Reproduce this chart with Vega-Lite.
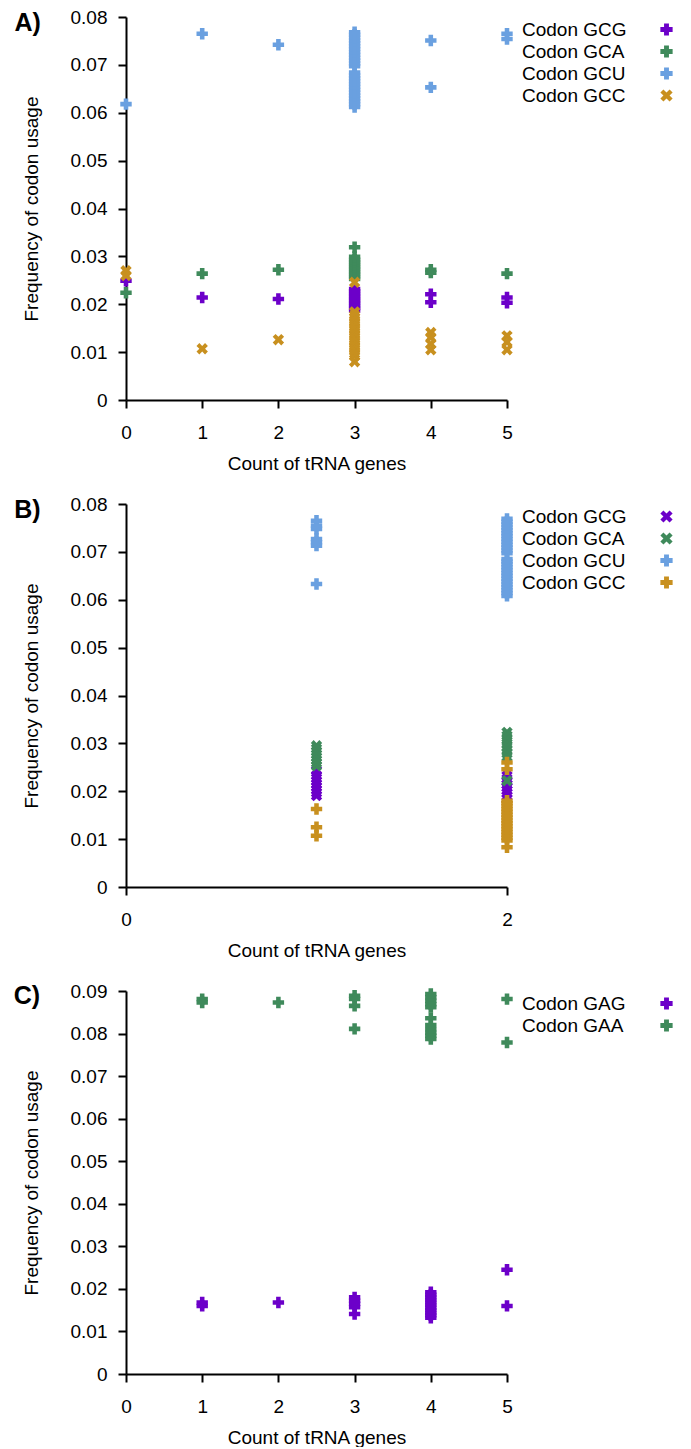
{
  "$schema": "https://vega.github.io/schema/vega-lite/v6.json",
  "autosize": {"type": "pad"},
  "padding": {"left": 13, "top": 8, "right": 5, "bottom": 0},
  "background": "white",
  "spacing": 22,
  "config": {
    "font": "Liberation Sans",
    "view": {"stroke": null},
    "axis": {
      "grid": false,
      "labelFlush": false,
      "domainColor": "black",
      "domainWidth": 2,
      "tickColor": "black",
      "tickWidth": 2,
      "tickSize": 8,
      "labelColor": "black",
      "labelFont": "Liberation Sans",
      "labelFontSize": 19,
      "titleFont": "Liberation Sans",
      "titleFontSize": 19,
      "titleFontWeight": "normal",
      "titleColor": "black"
    },
    "axisX": {"labelPadding": 15, "titlePadding": 12, "labelAngle": 0, "labelFlush": false},
    "axisY": {"labelPadding": 11, "titlePadding": 29, "labelFlush": false},
    "legend": {
      "orient": "none",
      "legendX": 382,
      "legendY": 3,
      "title": null,
      "padding": 0,
      "symbolOffset": 149,
      "labelOffset": -154,
      "labelFont": "Liberation Sans",
      "labelFontSize": 19,
      "labelColor": "black",
      "labelLimit": 300,
      "symbolSize": 150,
      "symbolStrokeWidth": 0,
      "rowPadding": 2
    }
  },
  "resolve": {"scale": {"x": "independent", "y": "independent", "color": "independent", "shape": "independent"}},
  "vconcat": [
    {
      "width": 381,
      "height": 383,
      "layer": [
        {
          "data": {"values": [
            {"count": 0, "freq": 0.0249, "codon": "Codon GCG"},
            {"count": 1, "freq": 0.0214, "codon": "Codon GCG"},
            {"count": 2, "freq": 0.0211, "codon": "Codon GCG"},
            {"count": 3, "freq": 0.0187, "codon": "Codon GCG"},
            {"count": 3, "freq": 0.0192, "codon": "Codon GCG"},
            {"count": 3, "freq": 0.0197, "codon": "Codon GCG"},
            {"count": 3, "freq": 0.0202, "codon": "Codon GCG"},
            {"count": 3, "freq": 0.0207, "codon": "Codon GCG"},
            {"count": 3, "freq": 0.0212, "codon": "Codon GCG"},
            {"count": 3, "freq": 0.0217, "codon": "Codon GCG"},
            {"count": 3, "freq": 0.0222, "codon": "Codon GCG"},
            {"count": 3, "freq": 0.0227, "codon": "Codon GCG"},
            {"count": 3, "freq": 0.0232, "codon": "Codon GCG"},
            {"count": 4, "freq": 0.0221, "codon": "Codon GCG"},
            {"count": 4, "freq": 0.0204, "codon": "Codon GCG"},
            {"count": 5, "freq": 0.0214, "codon": "Codon GCG"},
            {"count": 5, "freq": 0.0203, "codon": "Codon GCG"},
            {"count": 0, "freq": 0.0224, "codon": "Codon GCA"},
            {"count": 1, "freq": 0.0264, "codon": "Codon GCA"},
            {"count": 2, "freq": 0.0272, "codon": "Codon GCA"},
            {"count": 3, "freq": 0.0319, "codon": "Codon GCA"},
            {"count": 3, "freq": 0.0253, "codon": "Codon GCA"},
            {"count": 3, "freq": 0.0258, "codon": "Codon GCA"},
            {"count": 3, "freq": 0.0263, "codon": "Codon GCA"},
            {"count": 3, "freq": 0.0268, "codon": "Codon GCA"},
            {"count": 3, "freq": 0.0273, "codon": "Codon GCA"},
            {"count": 3, "freq": 0.0278, "codon": "Codon GCA"},
            {"count": 3, "freq": 0.0283, "codon": "Codon GCA"},
            {"count": 3, "freq": 0.0288, "codon": "Codon GCA"},
            {"count": 3, "freq": 0.0293, "codon": "Codon GCA"},
            {"count": 3, "freq": 0.0299, "codon": "Codon GCA"},
            {"count": 4, "freq": 0.0272, "codon": "Codon GCA"},
            {"count": 4, "freq": 0.0266, "codon": "Codon GCA"},
            {"count": 5, "freq": 0.0264, "codon": "Codon GCA"},
            {"count": 0, "freq": 0.0618, "codon": "Codon GCU"},
            {"count": 1, "freq": 0.0765, "codon": "Codon GCU"},
            {"count": 2, "freq": 0.0742, "codon": "Codon GCU"},
            {"count": 3, "freq": 0.0612, "codon": "Codon GCU"},
            {"count": 3, "freq": 0.0618, "codon": "Codon GCU"},
            {"count": 3, "freq": 0.0624, "codon": "Codon GCU"},
            {"count": 3, "freq": 0.0630, "codon": "Codon GCU"},
            {"count": 3, "freq": 0.0636, "codon": "Codon GCU"},
            {"count": 3, "freq": 0.0642, "codon": "Codon GCU"},
            {"count": 3, "freq": 0.0648, "codon": "Codon GCU"},
            {"count": 3, "freq": 0.0654, "codon": "Codon GCU"},
            {"count": 3, "freq": 0.0660, "codon": "Codon GCU"},
            {"count": 3, "freq": 0.0666, "codon": "Codon GCU"},
            {"count": 3, "freq": 0.0672, "codon": "Codon GCU"},
            {"count": 3, "freq": 0.0678, "codon": "Codon GCU"},
            {"count": 3, "freq": 0.0684, "codon": "Codon GCU"},
            {"count": 3, "freq": 0.0697, "codon": "Codon GCU"},
            {"count": 3, "freq": 0.0703, "codon": "Codon GCU"},
            {"count": 3, "freq": 0.0709, "codon": "Codon GCU"},
            {"count": 3, "freq": 0.0715, "codon": "Codon GCU"},
            {"count": 3, "freq": 0.0721, "codon": "Codon GCU"},
            {"count": 3, "freq": 0.0727, "codon": "Codon GCU"},
            {"count": 3, "freq": 0.0733, "codon": "Codon GCU"},
            {"count": 3, "freq": 0.0739, "codon": "Codon GCU"},
            {"count": 3, "freq": 0.0745, "codon": "Codon GCU"},
            {"count": 3, "freq": 0.0751, "codon": "Codon GCU"},
            {"count": 3, "freq": 0.0757, "codon": "Codon GCU"},
            {"count": 3, "freq": 0.0763, "codon": "Codon GCU"},
            {"count": 3, "freq": 0.0768, "codon": "Codon GCU"},
            {"count": 4, "freq": 0.0751, "codon": "Codon GCU"},
            {"count": 4, "freq": 0.0653, "codon": "Codon GCU"},
            {"count": 5, "freq": 0.0765, "codon": "Codon GCU"},
            {"count": 5, "freq": 0.0754, "codon": "Codon GCU"},
            {"count": 0, "freq": 0.0270, "codon": "Codon GCC"},
            {"count": 0, "freq": 0.0260, "codon": "Codon GCC"},
            {"count": 1, "freq": 0.0107, "codon": "Codon GCC"},
            {"count": 2, "freq": 0.0126, "codon": "Codon GCC"},
            {"count": 3, "freq": 0.0246, "codon": "Codon GCC"},
            {"count": 3, "freq": 0.0080, "codon": "Codon GCC"},
            {"count": 3, "freq": 0.0092, "codon": "Codon GCC"},
            {"count": 3, "freq": 0.0097, "codon": "Codon GCC"},
            {"count": 3, "freq": 0.0102, "codon": "Codon GCC"},
            {"count": 3, "freq": 0.0107, "codon": "Codon GCC"},
            {"count": 3, "freq": 0.0112, "codon": "Codon GCC"},
            {"count": 3, "freq": 0.0117, "codon": "Codon GCC"},
            {"count": 3, "freq": 0.0122, "codon": "Codon GCC"},
            {"count": 3, "freq": 0.0127, "codon": "Codon GCC"},
            {"count": 3, "freq": 0.0132, "codon": "Codon GCC"},
            {"count": 3, "freq": 0.0137, "codon": "Codon GCC"},
            {"count": 3, "freq": 0.0142, "codon": "Codon GCC"},
            {"count": 3, "freq": 0.0147, "codon": "Codon GCC"},
            {"count": 3, "freq": 0.0152, "codon": "Codon GCC"},
            {"count": 3, "freq": 0.0157, "codon": "Codon GCC"},
            {"count": 3, "freq": 0.0162, "codon": "Codon GCC"},
            {"count": 3, "freq": 0.0167, "codon": "Codon GCC"},
            {"count": 3, "freq": 0.0172, "codon": "Codon GCC"},
            {"count": 3, "freq": 0.0177, "codon": "Codon GCC"},
            {"count": 3, "freq": 0.0184, "codon": "Codon GCC"},
            {"count": 4, "freq": 0.0141, "codon": "Codon GCC"},
            {"count": 4, "freq": 0.0131, "codon": "Codon GCC"},
            {"count": 4, "freq": 0.0117, "codon": "Codon GCC"},
            {"count": 4, "freq": 0.0105, "codon": "Codon GCC"},
            {"count": 5, "freq": 0.0134, "codon": "Codon GCC"},
            {"count": 5, "freq": 0.0121, "codon": "Codon GCC"},
            {"count": 5, "freq": 0.0105, "codon": "Codon GCC"}
          ]},
          "mark": {"type": "point", "filled": true, "opacity": 1, "size": 130, "strokeWidth": 0},
          "encoding": {
            "x": {"field": "count", "type": "quantitative", "title": "Count of tRNA genes",
                  "scale": {"domain": [0, 5], "nice": false, "zero": false},
                  "axis": {"values": [0, 1, 2, 3, 4, 5], "format": "d"}},
            "y": {"field": "freq", "type": "quantitative", "title": "Frequency of codon usage",
                  "scale": {"domain": [0, 0.08], "nice": false},
                  "axis": {"values": [0, 0.01, 0.02, 0.03, 0.04, 0.05, 0.06, 0.07, 0.08],
                           "labelExpr": "datum.value == 0 ? '0' : format(datum.value, '.2f')"}},
            "color": {"field": "codon", "type": "nominal",
                      "scale": {"domain": ["Codon GCG", "Codon GCA", "Codon GCU", "Codon GCC"],
                                "range": ["#6c00c9", "#3f8a5b", "#6aa0e0", "#c8901f"]}},
            "shape": {"field": "codon", "type": "nominal",
                      "scale": {"domain": ["Codon GCG", "Codon GCA", "Codon GCU", "Codon GCC"],
                                "range": ["cross", "cross", "cross", "M-1,-0.5L-0.5,-1L0,-0.5L0.5,-1L1,-0.5L0.5,0L1,0.5L0.5,1L0,0.5L-0.5,1L-1,0.5L-0.5,0Z"]}}
          }
        },
        {
          "data": {"values": [{"label": "A)"}]},
          "mark": {"type": "text", "fontSize": 25, "fontWeight": "bold", "align": "center", "baseline": "middle", "color": "black"},
          "encoding": {
            "x": {"datum": -1.29, "type": "quantitative"},
            "y": {"datum": 0.0788, "type": "quantitative"},
            "text": {"field": "label"}
          }
        }
      ]
    },
    {
      "width": 381,
      "height": 383,
      "layer": [
        {
          "data": {"values": [
            {"count": 1, "freq": 0.0191, "codon": "Codon GCG"},
            {"count": 1, "freq": 0.0197, "codon": "Codon GCG"},
            {"count": 1, "freq": 0.0203, "codon": "Codon GCG"},
            {"count": 1, "freq": 0.0209, "codon": "Codon GCG"},
            {"count": 1, "freq": 0.0215, "codon": "Codon GCG"},
            {"count": 1, "freq": 0.0221, "codon": "Codon GCG"},
            {"count": 1, "freq": 0.0227, "codon": "Codon GCG"},
            {"count": 1, "freq": 0.0233, "codon": "Codon GCG"},
            {"count": 1, "freq": 0.0243, "codon": "Codon GCG"},
            {"count": 2, "freq": 0.0184, "codon": "Codon GCG"},
            {"count": 2, "freq": 0.0190, "codon": "Codon GCG"},
            {"count": 2, "freq": 0.0196, "codon": "Codon GCG"},
            {"count": 2, "freq": 0.0202, "codon": "Codon GCG"},
            {"count": 2, "freq": 0.0208, "codon": "Codon GCG"},
            {"count": 2, "freq": 0.0214, "codon": "Codon GCG"},
            {"count": 2, "freq": 0.0220, "codon": "Codon GCG"},
            {"count": 2, "freq": 0.0226, "codon": "Codon GCG"},
            {"count": 2, "freq": 0.0232, "codon": "Codon GCG"},
            {"count": 1, "freq": 0.0253, "codon": "Codon GCA"},
            {"count": 1, "freq": 0.0259, "codon": "Codon GCA"},
            {"count": 1, "freq": 0.0265, "codon": "Codon GCA"},
            {"count": 1, "freq": 0.0271, "codon": "Codon GCA"},
            {"count": 1, "freq": 0.0277, "codon": "Codon GCA"},
            {"count": 1, "freq": 0.0283, "codon": "Codon GCA"},
            {"count": 1, "freq": 0.0289, "codon": "Codon GCA"},
            {"count": 1, "freq": 0.0295, "codon": "Codon GCA"},
            {"count": 2, "freq": 0.0323, "codon": "Codon GCA"},
            {"count": 2, "freq": 0.0316, "codon": "Codon GCA"},
            {"count": 2, "freq": 0.0308, "codon": "Codon GCA"},
            {"count": 2, "freq": 0.0300, "codon": "Codon GCA"},
            {"count": 2, "freq": 0.0293, "codon": "Codon GCA"},
            {"count": 2, "freq": 0.0286, "codon": "Codon GCA"},
            {"count": 2, "freq": 0.0279, "codon": "Codon GCA"},
            {"count": 2, "freq": 0.0272, "codon": "Codon GCA"},
            {"count": 2, "freq": 0.0222, "codon": "Codon GCA"},
            {"count": 1, "freq": 0.0765, "codon": "Codon GCU"},
            {"count": 1, "freq": 0.0755, "codon": "Codon GCU"},
            {"count": 1, "freq": 0.0748, "codon": "Codon GCU"},
            {"count": 1, "freq": 0.0727, "codon": "Codon GCU"},
            {"count": 1, "freq": 0.0720, "codon": "Codon GCU"},
            {"count": 1, "freq": 0.0713, "codon": "Codon GCU"},
            {"count": 1, "freq": 0.0633, "codon": "Codon GCU"},
            {"count": 2, "freq": 0.0608, "codon": "Codon GCU"},
            {"count": 2, "freq": 0.0614, "codon": "Codon GCU"},
            {"count": 2, "freq": 0.0620, "codon": "Codon GCU"},
            {"count": 2, "freq": 0.0626, "codon": "Codon GCU"},
            {"count": 2, "freq": 0.0632, "codon": "Codon GCU"},
            {"count": 2, "freq": 0.0638, "codon": "Codon GCU"},
            {"count": 2, "freq": 0.0644, "codon": "Codon GCU"},
            {"count": 2, "freq": 0.0650, "codon": "Codon GCU"},
            {"count": 2, "freq": 0.0656, "codon": "Codon GCU"},
            {"count": 2, "freq": 0.0662, "codon": "Codon GCU"},
            {"count": 2, "freq": 0.0668, "codon": "Codon GCU"},
            {"count": 2, "freq": 0.0674, "codon": "Codon GCU"},
            {"count": 2, "freq": 0.0680, "codon": "Codon GCU"},
            {"count": 2, "freq": 0.0685, "codon": "Codon GCU"},
            {"count": 2, "freq": 0.0697, "codon": "Codon GCU"},
            {"count": 2, "freq": 0.0703, "codon": "Codon GCU"},
            {"count": 2, "freq": 0.0709, "codon": "Codon GCU"},
            {"count": 2, "freq": 0.0715, "codon": "Codon GCU"},
            {"count": 2, "freq": 0.0721, "codon": "Codon GCU"},
            {"count": 2, "freq": 0.0727, "codon": "Codon GCU"},
            {"count": 2, "freq": 0.0733, "codon": "Codon GCU"},
            {"count": 2, "freq": 0.0739, "codon": "Codon GCU"},
            {"count": 2, "freq": 0.0745, "codon": "Codon GCU"},
            {"count": 2, "freq": 0.0751, "codon": "Codon GCU"},
            {"count": 2, "freq": 0.0757, "codon": "Codon GCU"},
            {"count": 2, "freq": 0.0763, "codon": "Codon GCU"},
            {"count": 2, "freq": 0.0769, "codon": "Codon GCU"},
            {"count": 1, "freq": 0.0163, "codon": "Codon GCC"},
            {"count": 1, "freq": 0.0125, "codon": "Codon GCC"},
            {"count": 1, "freq": 0.0107, "codon": "Codon GCC"},
            {"count": 2, "freq": 0.0260, "codon": "Codon GCC"},
            {"count": 2, "freq": 0.0246, "codon": "Codon GCC"},
            {"count": 2, "freq": 0.0083, "codon": "Codon GCC"},
            {"count": 2, "freq": 0.0097, "codon": "Codon GCC"},
            {"count": 2, "freq": 0.0103, "codon": "Codon GCC"},
            {"count": 2, "freq": 0.0109, "codon": "Codon GCC"},
            {"count": 2, "freq": 0.0115, "codon": "Codon GCC"},
            {"count": 2, "freq": 0.0121, "codon": "Codon GCC"},
            {"count": 2, "freq": 0.0127, "codon": "Codon GCC"},
            {"count": 2, "freq": 0.0133, "codon": "Codon GCC"},
            {"count": 2, "freq": 0.0139, "codon": "Codon GCC"},
            {"count": 2, "freq": 0.0145, "codon": "Codon GCC"},
            {"count": 2, "freq": 0.0151, "codon": "Codon GCC"},
            {"count": 2, "freq": 0.0157, "codon": "Codon GCC"},
            {"count": 2, "freq": 0.0163, "codon": "Codon GCC"},
            {"count": 2, "freq": 0.0169, "codon": "Codon GCC"},
            {"count": 2, "freq": 0.0175, "codon": "Codon GCC"},
            {"count": 2, "freq": 0.0180, "codon": "Codon GCC"}
          ]},
          "mark": {"type": "point", "filled": true, "opacity": 1, "size": 130, "strokeWidth": 0},
          "encoding": {
            "x": {"field": "count", "type": "quantitative", "title": "Count of tRNA genes",
                  "scale": {"domain": [0, 2], "nice": false, "zero": false},
                  "axis": {"values": [0, 1, 2], "format": "d"}},
            "y": {"field": "freq", "type": "quantitative", "title": "Frequency of codon usage",
                  "scale": {"domain": [0, 0.08], "nice": false},
                  "axis": {"values": [0, 0.01, 0.02, 0.03, 0.04, 0.05, 0.06, 0.07, 0.08],
                           "labelExpr": "datum.value == 0 ? '0' : format(datum.value, '.2f')"}},
            "color": {"field": "codon", "type": "nominal",
                      "scale": {"domain": ["Codon GCG", "Codon GCA", "Codon GCU", "Codon GCC"],
                                "range": ["#6c00c9", "#3f8a5b", "#6aa0e0", "#c8901f"]}},
            "shape": {"field": "codon", "type": "nominal",
                      "scale": {"domain": ["Codon GCG", "Codon GCA", "Codon GCU", "Codon GCC"],
                                "range": ["M-1,-0.5L-0.5,-1L0,-0.5L0.5,-1L1,-0.5L0.5,0L1,0.5L0.5,1L0,0.5L-0.5,1L-1,0.5L-0.5,0Z", "M-1,-0.5L-0.5,-1L0,-0.5L0.5,-1L1,-0.5L0.5,0L1,0.5L0.5,1L0,0.5L-0.5,1L-1,0.5L-0.5,0Z", "cross", "cross"]}}
          }
        },
        {
          "data": {"values": [{"label": "B)"}]},
          "mark": {"type": "text", "fontSize": 25, "fontWeight": "bold", "align": "center", "baseline": "middle", "color": "black"},
          "encoding": {
            "x": {"datum": -0.518, "type": "quantitative"},
            "y": {"datum": 0.0788, "type": "quantitative"},
            "text": {"field": "label"}
          }
        }
      ]
    },
    {
      "width": 381,
      "height": 383,
      "layer": [
        {
          "data": {"values": [
            {"count": 1, "freq": 0.0168, "codon": "Codon GAG"},
            {"count": 1, "freq": 0.0160, "codon": "Codon GAG"},
            {"count": 2, "freq": 0.0168, "codon": "Codon GAG"},
            {"count": 3, "freq": 0.0180, "codon": "Codon GAG"},
            {"count": 3, "freq": 0.0172, "codon": "Codon GAG"},
            {"count": 3, "freq": 0.0165, "codon": "Codon GAG"},
            {"count": 3, "freq": 0.0157, "codon": "Codon GAG"},
            {"count": 3, "freq": 0.0141, "codon": "Codon GAG"},
            {"count": 4, "freq": 0.0192, "codon": "Codon GAG"},
            {"count": 4, "freq": 0.0186, "codon": "Codon GAG"},
            {"count": 4, "freq": 0.0180, "codon": "Codon GAG"},
            {"count": 4, "freq": 0.0174, "codon": "Codon GAG"},
            {"count": 4, "freq": 0.0168, "codon": "Codon GAG"},
            {"count": 4, "freq": 0.0162, "codon": "Codon GAG"},
            {"count": 4, "freq": 0.0156, "codon": "Codon GAG"},
            {"count": 4, "freq": 0.0150, "codon": "Codon GAG"},
            {"count": 4, "freq": 0.0144, "codon": "Codon GAG"},
            {"count": 4, "freq": 0.0138, "codon": "Codon GAG"},
            {"count": 4, "freq": 0.0132, "codon": "Codon GAG"},
            {"count": 5, "freq": 0.0245, "codon": "Codon GAG"},
            {"count": 5, "freq": 0.0160, "codon": "Codon GAG"},
            {"count": 1, "freq": 0.0881, "codon": "Codon GAA"},
            {"count": 1, "freq": 0.0873, "codon": "Codon GAA"},
            {"count": 2, "freq": 0.0873, "codon": "Codon GAA"},
            {"count": 3, "freq": 0.0889, "codon": "Codon GAA"},
            {"count": 3, "freq": 0.0881, "codon": "Codon GAA"},
            {"count": 3, "freq": 0.0865, "codon": "Codon GAA"},
            {"count": 3, "freq": 0.0811, "codon": "Codon GAA"},
            {"count": 4, "freq": 0.0893, "codon": "Codon GAA"},
            {"count": 4, "freq": 0.0885, "codon": "Codon GAA"},
            {"count": 4, "freq": 0.0877, "codon": "Codon GAA"},
            {"count": 4, "freq": 0.0869, "codon": "Codon GAA"},
            {"count": 4, "freq": 0.0862, "codon": "Codon GAA"},
            {"count": 4, "freq": 0.0836, "codon": "Codon GAA"},
            {"count": 4, "freq": 0.0820, "codon": "Codon GAA"},
            {"count": 4, "freq": 0.0810, "codon": "Codon GAA"},
            {"count": 4, "freq": 0.0802, "codon": "Codon GAA"},
            {"count": 4, "freq": 0.0795, "codon": "Codon GAA"},
            {"count": 4, "freq": 0.0787, "codon": "Codon GAA"},
            {"count": 5, "freq": 0.0881, "codon": "Codon GAA"},
            {"count": 5, "freq": 0.0779, "codon": "Codon GAA"}
          ]},
          "mark": {"type": "point", "filled": true, "opacity": 1, "size": 130, "strokeWidth": 0},
          "encoding": {
            "x": {"field": "count", "type": "quantitative", "title": "Count of tRNA genes",
                  "scale": {"domain": [0, 5], "nice": false, "zero": false},
                  "axis": {"values": [0, 1, 2, 3, 4, 5], "format": "d"}},
            "y": {"field": "freq", "type": "quantitative", "title": "Frequency of codon usage",
                  "scale": {"domain": [0, 0.09], "nice": false},
                  "axis": {"values": [0, 0.01, 0.02, 0.03, 0.04, 0.05, 0.06, 0.07, 0.08, 0.09],
                           "labelExpr": "datum.value == 0 ? '0' : format(datum.value, '.2f')"}},
            "color": {"field": "codon", "type": "nominal",
                      "scale": {"domain": ["Codon GAG", "Codon GAA"],
                                "range": ["#6c00c9", "#3f8a5b"]}},
            "shape": {"field": "codon", "type": "nominal",
                      "scale": {"domain": ["Codon GAG", "Codon GAA"],
                                "range": ["cross", "cross"]}}
          }
        },
        {
          "data": {"values": [{"label": "C)"}]},
          "mark": {"type": "text", "fontSize": 25, "fontWeight": "bold", "align": "center", "baseline": "middle", "color": "black"},
          "encoding": {
            "x": {"datum": -1.3, "type": "quantitative"},
            "y": {"datum": 0.0889, "type": "quantitative"},
            "text": {"field": "label"}
          }
        }
      ]
    }
  ]
}
